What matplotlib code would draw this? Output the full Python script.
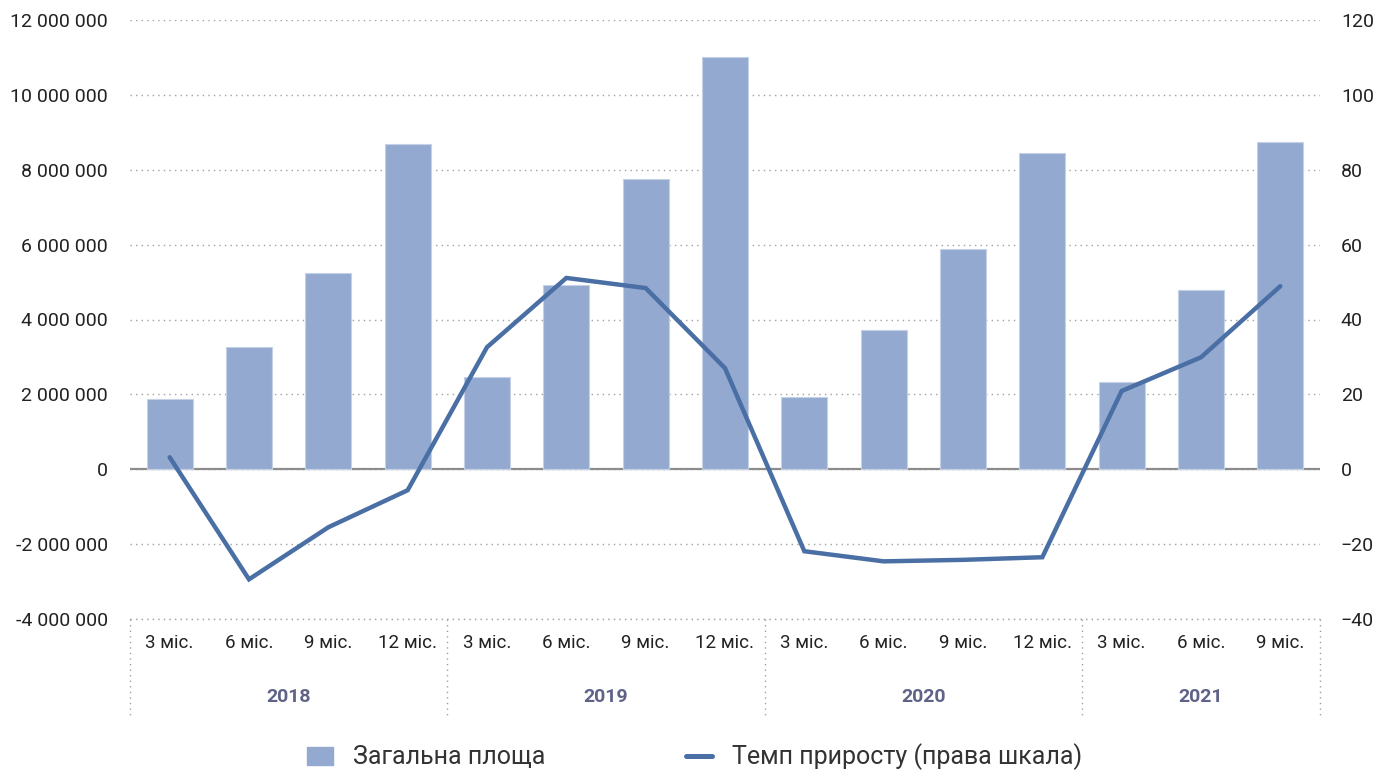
import matplotlib.pyplot as plt
import matplotlib.transforms as mtransforms
from matplotlib.lines import Line2D
from matplotlib.patches import Patch

plt.rcParams['font.family'] = ['Roboto', 'DejaVu Sans']

months = ["3 міс.", "6 міс.", "9 міс.", "12 міс.",
          "3 міс.", "6 міс.", "9 міс.", "12 міс.",
          "3 міс.", "6 міс.", "9 міс.", "12 міс.",
          "3 міс.", "6 міс.", "9 міс."]
years = ["2018", "2019", "2020", "2021"]
yearSizes = [4, 4, 4, 3]

# загальна площа
area = [1870000, 3260000, 5240000, 8690000,
        2460000, 4920000, 7750000, 11020000,
        1930000, 3720000, 5880000, 8450000,
        2330000, 4790000, 8740000]
# темп приросту, %
growth = [3.2, -29.4, -15.5, -5.6,
          32.6, 51.1, 48.4, 27.0,
          -21.9, -24.6, -24.2, -23.5,
          20.9, 29.9, 48.9]

barColor = "#94a9cf"
lineColor = "#4a6fa5"
gridColor = "#a0a0a0"

fig = plt.figure(figsize=(13.89, 7.73), dpi=100)
ax = fig.add_axes([130 / 1389, 154 / 773, 1190 / 1389, 599 / 773])
ax2 = ax.twinx()

x = list(range(len(area)))
ax.bar(x, area, width=0.58, color=barColor, edgecolor="#c5d1e6", linewidth=0.8, zorder=2)
ax.set_xlim(-0.5, len(area) - 0.5)
ax.set_ylim(-4000000, 12000000)
ax.set_yticks(range(-4000000, 12000001, 2000000))
ax.set_yticklabels([f"{v:,}".replace(",", " ") for v in range(-4000000, 12000001, 2000000)])
ax.yaxis.grid(True, linestyle=(0, (1, 3)), color=gridColor, linewidth=1.0, zorder=0)
ax.axhline(0, color="#8c8c8c", linewidth=1.6, zorder=1)
ax.set_axisbelow(True)

ax2.plot(x, growth, color=lineColor, linewidth=3.2, solid_capstyle="round",
         solid_joinstyle="miter", zorder=3)
ax2.set_ylim(-40, 120)
ax2.set_yticks(range(-40, 121, 20))

for a in (ax, ax2):
    for s in a.spines.values():
        s.set_visible(False)
    a.tick_params(axis="y", length=0, labelsize=14, colors="#222222")
ax.tick_params(axis="y", pad=16)
ax2.tick_params(axis="y", pad=15)

# bottom dotted line
ax.axhline(-4000000, color=gridColor, linestyle=(0, (1, 3)), linewidth=1.0, clip_on=False)

ax.set_xticks(x)
ax.set_xticklabels(months)
ax.tick_params(axis="x", length=0, labelsize=13.5, pad=11, colors="#222222")

# group separators and year labels
trans = mtransforms.blended_transform_factory(ax.transData, ax.transAxes)
edges = [-0.5]
for n in yearSizes:
    edges.append(edges[-1] + n)
for e in edges:
    ax.add_line(Line2D([e, e], [0, -96 / 599], transform=trans, color=gridColor,
                       linestyle=(0, (1, 3)), linewidth=1.0, clip_on=False))
for i, yr in enumerate(years):
    ax.text((edges[i] + edges[i + 1]) / 2, -78 / 599, yr, transform=trans,
            ha="center", va="center", fontsize=14, fontweight="bold", color="#5f6387")

handles = [Patch(facecolor=barColor, edgecolor=barColor),
           Line2D([0], [0], color=lineColor, linewidth=3.6, solid_capstyle="round")]
fig.legend(handles, ["Загальна площа", "Темп приросту (права шкала)"],
           loc="center", bbox_to_anchor=(0.5, 1 - 757 / 773), ncol=2, frameon=False,
           fontsize=18, columnspacing=5.6, handlelength=1.05, handletextpad=0.8,
           handleheight=0.75, labelcolor="#333333")

fig.savefig("out.png", dpi=100)
